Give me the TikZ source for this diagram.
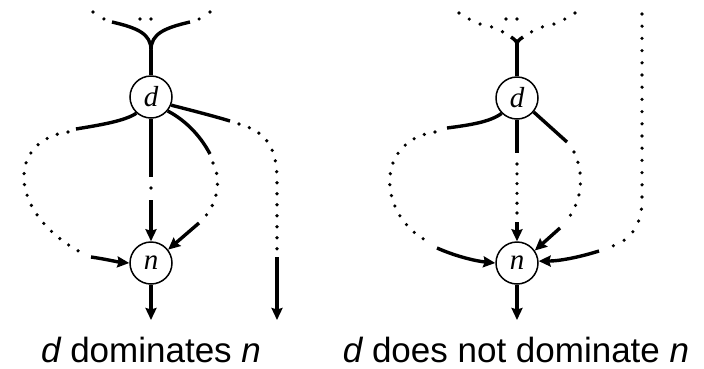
\documentclass[tikz,border=0pt]{standalone}
\usepackage{fontspec}
\setmainfont{Liberation Serif}
\newfontfamily\capfont{Liberation Sans}
\usetikzlibrary{arrows.meta}
\begin{document}
\begin{tikzpicture}[x=1pt,y=-1pt,
  thk/.style={line width=3.4pt},
  dotl/.style={line width=3.6pt, line cap=round, dash pattern=on 0pt off 11pt},
  arr/.style={thk, -{Stealth[length=12pt,width=11pt,inset=1.5pt]}},
  vtx/.style={circle, draw, line width=1.5pt, minimum size=42pt, inner sep=0pt,
    font=\fontsize{29}{29}\selectfont\itshape},
  captext/.style={font=\capfont\fontsize{35}{35}\selectfont, anchor=base, inner sep=0pt}
]
\useasboundingbox (0,0) rectangle (704,368);

% ---------------- left: d dominates n ----------------
\node[vtx] (d1) at (151,97) {d};
\node[vtx] (n1) at (151,263) {n};
\coordinate (m1) at (151,50);

\draw[dotl, dash pattern=on 0pt off 12.9pt] (93,12) -- (104,19);
\draw[dotl, dash pattern=on 0pt off 12.9pt] (210,12) -- (199,19);
\draw[dotl] (140,19) -- (162,19);
\draw[thk] (112,22) .. controls (138,28) and (151,34) .. (m1);
\draw[thk] (190,22) .. controls (164,28) and (151,34) .. (m1);
\draw[thk] (m1) -- (d1.north);

% left loop
\draw[thk] (d1.228) .. controls (125,121) and (100,125) .. (76,129);
\draw[dotl] (68,132) .. controls (8,140) and (6,212) .. (82,253);
\draw[arr] (91,257) .. controls (105,259) and (118,262) .. (n1.west);

% middle
\draw[thk] (d1.south) -- (151,177);
\fill (151,188) circle (1.8pt);
\draw[arr] (151,200) -- (n1.north);

% right inner
\draw[thk] (d1.-40) .. controls (185,120) and (200,135) .. (210,154);
\draw[dotl] (213,163) .. controls (221,178) and (219,203) .. (202,220);
\draw[arr] (199,223) -- (n1.38);

% right outer
\draw[thk] (d1.-22) .. controls (190,110) and (210,115) .. (230,121);
\draw[dotl] (239,124) .. controls (268,132) and (277,150) .. (277,180) -- (277,253);
\draw[arr] (277,257) -- (277,320);

% out of n
\coordinate (e1) at (151,320);
\draw[arr] (n1.south) -- (e1);

\node[captext] (c1) at (151,362) {{\itshape d} dominates {\itshape n}};

% ---------------- right: d does not dominate n ----------------
\node[vtx] (d2) at (517,98) {d};
\node[vtx] (n2) at (517,263) {n};
\coordinate (m2) at (517,45);

\draw[dotl, dash pattern=on 0pt off 11.9pt] (459,13) -- (469,19) -- (480,24) -- (492,27) -- (503,32);
\draw[dotl, dash pattern=on 0pt off 11.9pt] (575,13) -- (565,19) -- (554,24) -- (542,27) -- (531,32);
\draw[dotl] (506,19) -- (528,19);
\draw[thk] (511,37) .. controls (515,40) and (517,41) .. (m2);
\draw[thk] (523,37) .. controls (519,40) and (517,41) .. (m2);
\draw[thk] (m2) -- (d2.north);

% left loop
\draw[thk] (d2.225) .. controls (490,122) and (470,125) .. (447,128);
\draw[dotl] (435,132) .. controls (374,141) and (378,215) .. (427,241);
\draw[arr] (437,248) .. controls (455,256) and (475,261) .. (n2.west);

% middle
\draw[thk] (d2.south) -- (517,153);
\draw[dotl, dash pattern=on 0pt off 9.8pt] (517,164) -- (517,213);
\draw[arr] (517,222) -- (n2.north);

% right inner
\draw[thk] (d2.-40) -- (567,142);
\draw[dotl] (574,152) .. controls (584,172) and (583,200) .. (567,220);
\draw[arr] (560,228) -- (n2.35);

% far right
\draw[dotl, dash pattern=on 0pt off 12.2pt] (642,14) -- (642,200) .. controls (642,225) and (630,242) .. (609,247);
\draw[arr] (599,251) .. controls (580,257) and (560,261) .. (n2.5);

% out of n
\coordinate (e2) at (517,320);
\draw[arr] (n2.south) -- (e2);

\node[captext] (c2) at (516,362) {{\itshape d} does not dominate {\itshape n}};
\end{tikzpicture}
\end{document}
